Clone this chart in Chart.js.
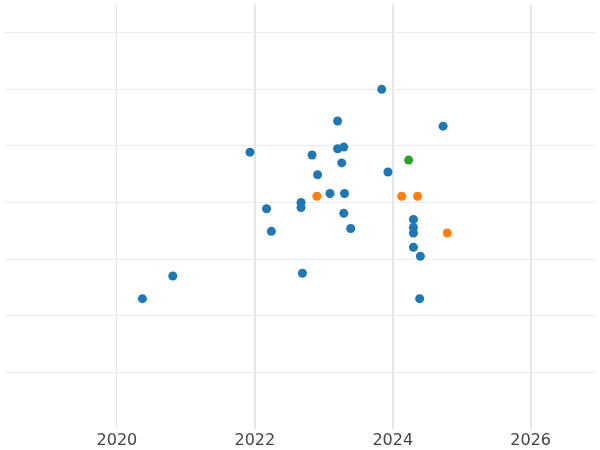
<!DOCTYPE html>
<html><head><meta charset="utf-8">
<script src="https://cdn.jsdelivr.net/npm/chart.js@4"></script>
<style>body{margin:0;background:#fff}#wrap{width:600px;height:450px}</style>
</head><body><div id="wrap"><canvas id="c"></canvas></div>
<script>
// years (x) and values (y) for each group
const blueX = [2020.37,2020.81,2021.93,2022.17,2022.24,2022.67,2022.67,2022.69,2022.83,2022.91,2023.09,2023.2,2023.2,2023.29,2023.26,2023.3,2023.29,2023.39,2023.84,2023.93,2024.3,2024.3,2024.3,2024.3,2024.4,2024.39,2024.73];
const blueY = [2.30,2.70,4.89,3.89,3.49,4.0,3.91,2.75,4.84,4.49,4.16,5.44,4.95,4.98,4.70,4.16,3.81,3.54,6.0,4.54,3.70,3.56,3.46,3.21,3.05,2.30,5.35];
const orangeX = [2022.9,2024.13,2024.36,2024.79];
const orangeY = [4.11,4.11,4.11,3.46];
const greenX = [2024.23];
const greenY = [4.75];
const xTicks = [2020,2022,2024,2026];

function pts(xs, ys) { return xs.map((x, i) => ({x: x, y: ys[i]})); }

new Chart(document.getElementById('c'), {
    type: 'scatter',
    data: {
        datasets: [
            {data: pts(blueX, blueY), backgroundColor: '#1f77b4', borderWidth: 0, pointRadius: 4.5},
            {data: pts(orangeX, orangeY), backgroundColor: '#ff7f0e', borderWidth: 0, pointRadius: 4.5},
            {data: pts(greenX, greenY), backgroundColor: '#2ca02c', borderWidth: 0, pointRadius: 4.5}
        ]
    },
    options: {
        animation: false,
        maintainAspectRatio: false,
        layout: {padding: {left: -5, right: -5, top: -5, bottom: -2}},
        plugins: {legend: {display: false}, tooltip: {enabled: false}},
        scales: {
            x: {
                type: 'linear', min: 2018.37, max: 2026.94,
                afterBuildTicks: s => { s.ticks = xTicks.map(v => ({value: v})); },
                ticks: {callback: v => String(v), color: '#444', font: {family: 'DejaVu Sans', size: 16}, padding: 2},
                grid: {color: '#e6e6e6', lineWidth: c => (c.tick && c.tick.value === 2020 ? 1 : 2), drawTicks: false},
                border: {display: false}
            },
            y: {
                min: 0, max: 7.5,
                ticks: {display: false, stepSize: 1},
                grid: {color: c => (c.tick && (c.tick.value === 0 || c.tick.value === 7.5) ? 'rgba(0,0,0,0)' : '#ececec'), drawTicks: false},
                border: {display: false}
            }
        }
    }
});
</script></body></html>
